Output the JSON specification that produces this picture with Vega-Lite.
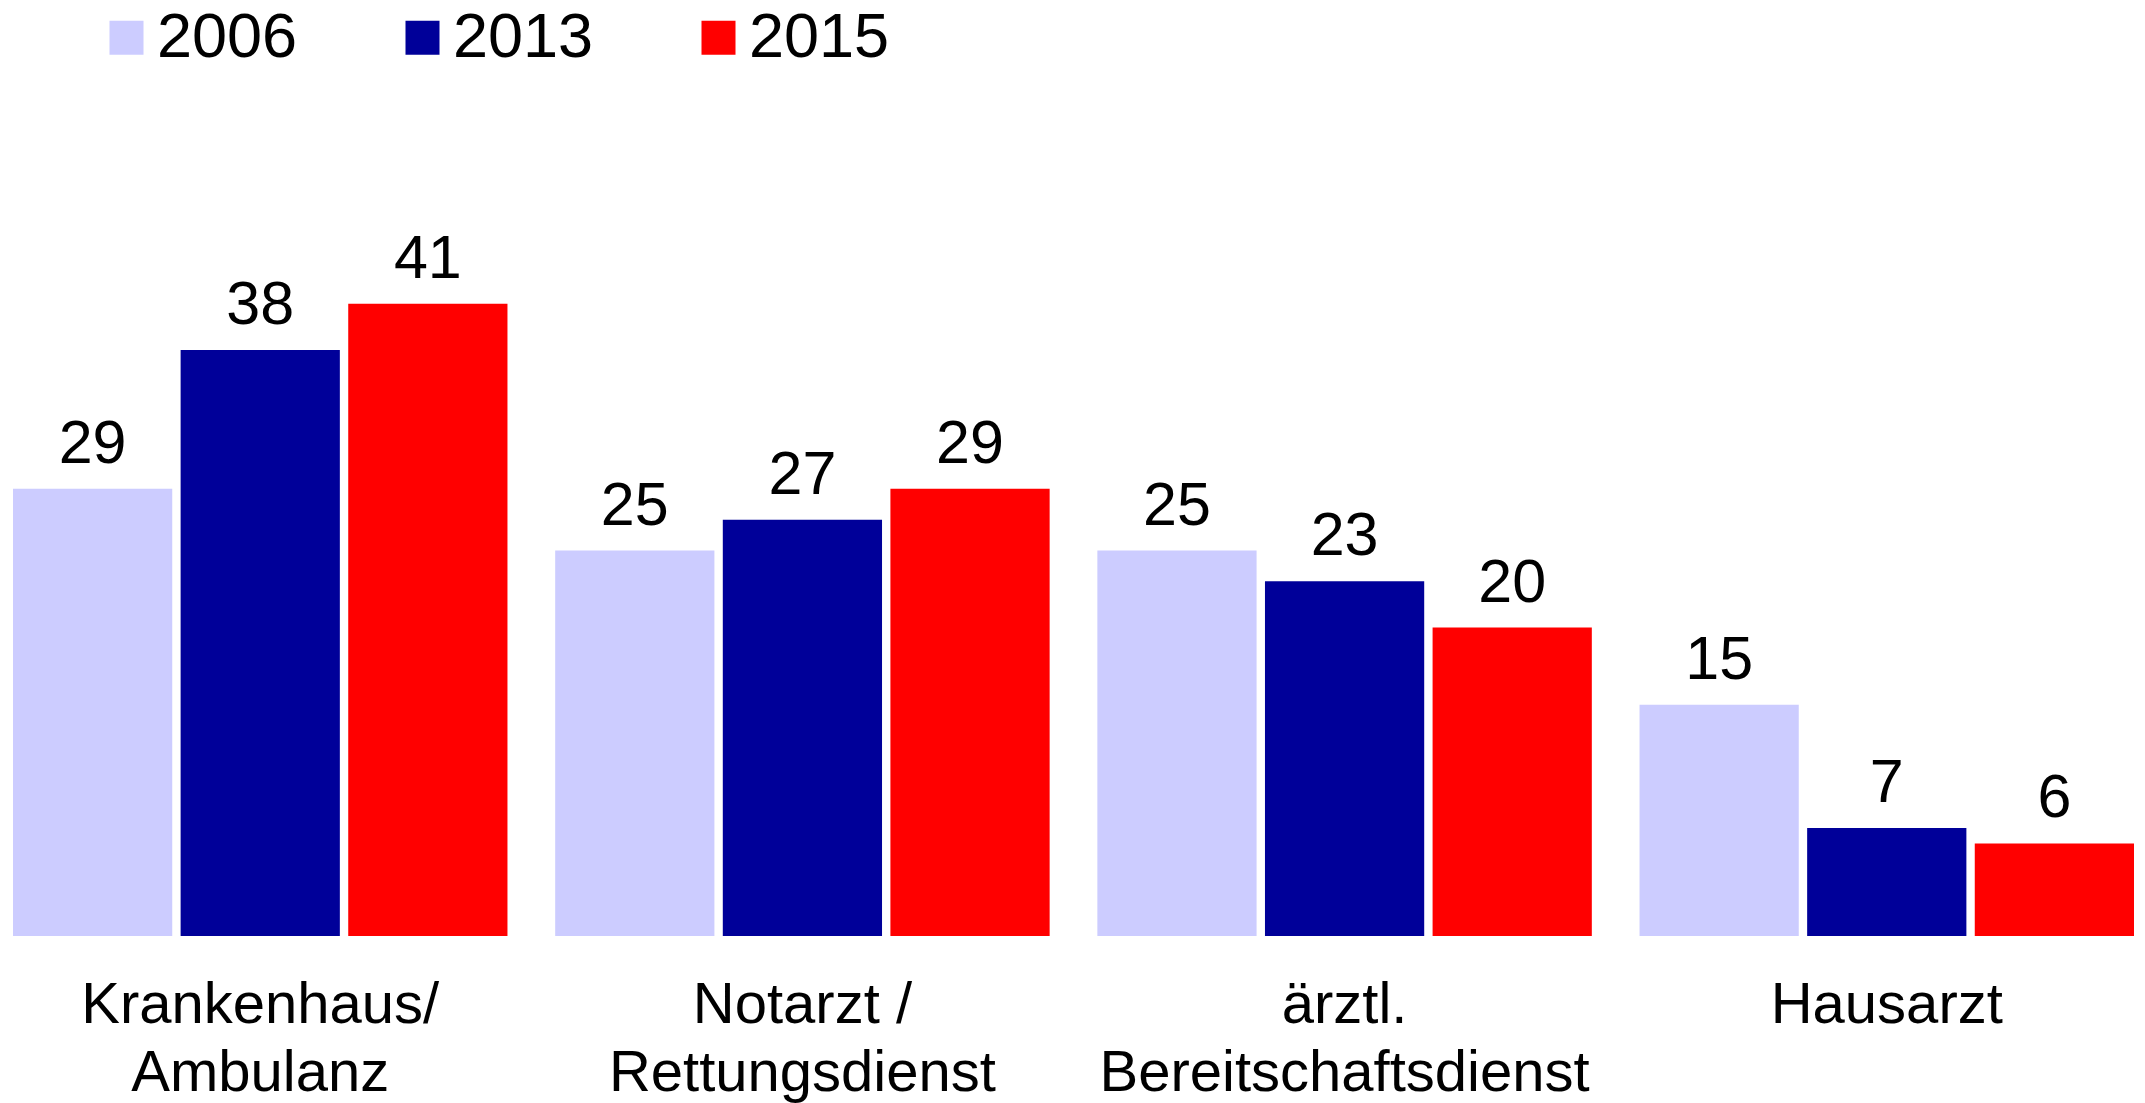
{
  "$schema": "https://vega.github.io/schema/vega-lite/v6.json",
  "width": 2121,
  "height": 771,
  "autosize": {"type": "none"},
  "padding": {"left": 13, "top": 165, "right": 11, "bottom": 167},
  "background": "white",
  "config": {"view": {"stroke": null}, "font": "Liberation Sans"},
  "data": {
    "values": [
      {"cat": "Krankenhaus/|Ambulanz", "year": "2006", "value": 29},
      {"cat": "Krankenhaus/|Ambulanz", "year": "2013", "value": 38},
      {"cat": "Krankenhaus/|Ambulanz", "year": "2015", "value": 41},
      {"cat": "Notarzt /|Rettungsdienst", "year": "2006", "value": 25},
      {"cat": "Notarzt /|Rettungsdienst", "year": "2013", "value": 27},
      {"cat": "Notarzt /|Rettungsdienst", "year": "2015", "value": 29},
      {"cat": "ärztl.|Bereitschaftsdienst", "year": "2006", "value": 25},
      {"cat": "ärztl.|Bereitschaftsdienst", "year": "2013", "value": 23},
      {"cat": "ärztl.|Bereitschaftsdienst", "year": "2015", "value": 20},
      {"cat": "Hausarzt", "year": "2006", "value": 15},
      {"cat": "Hausarzt", "year": "2013", "value": 7},
      {"cat": "Hausarzt", "year": "2015", "value": 6}
    ]
  },
  "encoding": {
    "x": {
      "field": "cat",
      "type": "nominal",
      "sort": ["Krankenhaus/|Ambulanz", "Notarzt /|Rettungsdienst", "ärztl.|Bereitschaftsdienst", "Hausarzt"],
      "scale": {"paddingInner": 0.088, "paddingOuter": 0},
      "axis": {
        "title": null,
        "labelExpr": "split(datum.value, '|')",
        "labelAngle": 0,
        "ticks": false,
        "domain": false,
        "grid": false,
        "labelFontSize": 58,
        "labelLineHeight": 68,
        "labelPadding": 40,
        "labelColor": "black",
        "labelBaseline": "top",
        "labelLimit": 0
      }
    },
    "xOffset": {
      "field": "year",
      "type": "nominal",
      "sort": ["2006", "2013", "2015"],
      "scale": {"paddingInner": 0.05, "paddingOuter": 0}
    },
    "y": {
      "field": "value",
      "type": "quantitative",
      "scale": {"domain": [0, 50]},
      "axis": null
    }
  },
  "layer": [
    {
      "mark": {"type": "bar"},
      "encoding": {
        "color": {
          "field": "year",
          "type": "nominal",
          "sort": ["2006", "2013", "2015"],
          "scale": {"domain": ["2006", "2013", "2015"], "range": ["#CCCCFF", "#000099", "#FF0000"]},
          "legend": {
            "orient": "none",
            "legendX": 82,
            "legendY": -159,
            "direction": "horizontal",
            "title": null,
            "symbolType": "square",
            "symbolSize": 1156,
            "symbolStrokeWidth": 0,
            "symbolOpacity": 1,
            "labelFontSize": 63,
            "labelOffset": -1,
            "columnPadding": 93,
            "padding": 0,
            "labelColor": "black",
            "labelLimit": 0
          }
        }
      }
    },
    {
      "mark": {"type": "text", "dy": -26, "baseline": "alphabetic", "fontSize": 61, "color": "black"},
      "encoding": {"text": {"field": "value", "type": "quantitative"}}
    }
  ]
}
